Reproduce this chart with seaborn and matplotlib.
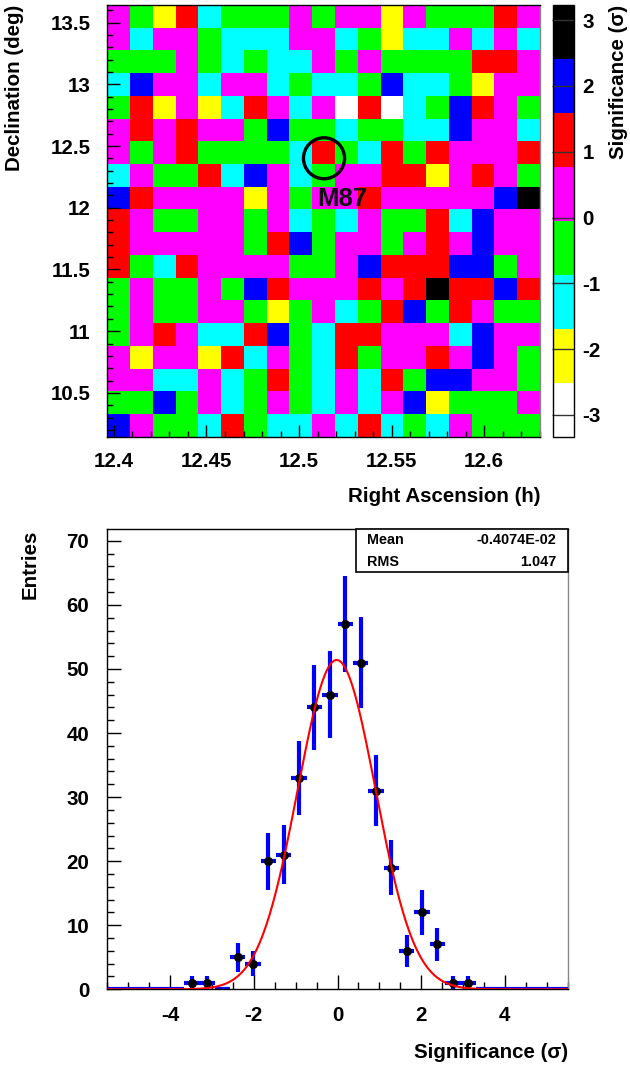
import numpy as np
import pandas as pd
import seaborn as sns
import matplotlib.pyplot as plt
from matplotlib.colors import ListedColormap
from matplotlib.patches import Ellipse, Rectangle

plt.rcParams['font.family'] = ['Liberation Sans', 'DejaVu Sans']
plt.rcParams['font.weight'] = 'bold'
plt.rcParams['axes.labelweight'] = 'bold'

#%% data
# significance map, 19x19 cells, top row = highest declination
# colour codes: W Y C G M R B K (lowest -> highest significance)
map_rows = [
    'MGYRCGGGMGMMYMGGGRM',
    'MCMMGCCCMMCGYCCMCMC',
    'GGGMGCGCCMGMGGGGRRM',
    'CBMMCMMCGCCGBCCGYMM',
    'GRYMYCRMCMWRWCGBRMG',
    'MRMRMMGBGGCGGCCBMMC',
    'MGMRGGGGCRGCRGRMMMR',
    'CMGGRCBMCGMMRRYMRMG',
    'BRMMMMYMGMMRMMMMMBK',
    'RMGGMMGMCGCMGGRCBMM',
    'RMMMMMGRBGMMGMRMBMM',
    'RGCRMMMMGGMBRRRBBGM',
    'GMGGMGBRMMMRMRKRRBR',
    'GMGGMMGYGMCGRBGRMGG',
    'GMRMCCRBGCRRMMMCBMM',
    'MYMMYRCMGCRGMMRMBMG',
    'MMCCMCGRGCMCRGBBMMG',
    'GGBGMCGMGCMCMBYGGGM',
    'BMGGCRGCCMCRCGCMGGG',
]
# estimated significance of each colour class (middle of its band)
code_sig = {'W': -2.92, 'Y': -2.10, 'C': -1.28, 'G': -0.46,
            'M': 0.36, 'R': 1.18, 'B': 2.00, 'K': 2.82}
code_colors = ['white', '#ffff00', '#00ffff', '#00ff00',
               '#ff00ff', '#ff0000', '#0000ff', 'black']
z_min, z_max = -3.33, 3.23

ra_lo, ra_hi = 12.3964, 12.6302
dec_lo, dec_hi = 10.145, 13.643
ra_ticks = [12.4, 12.45, 12.5, 12.55, 12.6]
ra_labels = ['12.4', '12.45', '12.5', '12.55', '12.6']
dec_ticks = [10.5, 11, 11.5, 12, 12.5, 13, 13.5]
dec_labels = ['10.5', '11', '11.5', '12', '12.5', '13', '13.5']
cbar_ticks = [-3, -2, -1, 0, 1, 2, 3]

m87_ra, m87_dec = 12.5135, 12.401
m87_r_ra, m87_r_dec = 0.0111, 0.166
m87_text_ra, m87_text_dec = 12.5236, 12.071

# significance histogram, 30 bins from -5.5 to 5.5
hist_lo, hist_hi = -5.5, 5.5
hist_counts = [0, 0, 0, 0, 0, 1, 1, 0, 5, 4, 20, 21, 33, 44, 46,
               57, 51, 31, 19, 6, 12, 7, 1, 1, 0, 0, 0, 0, 0, 0]
fit_const, fit_mean, fit_sigma = 51.4, -0.02, 0.93
stat_mean = '-0.4074E-02'
stat_rms = '1.047'

#%% figure
W, H = 630, 1069
fig = plt.figure(figsize=(W / 100, H / 100), dpi=100)
fs = 14.8

def fbox(x0, y0, x1, y1):
    return [x0 / W, 1 - y1 / H, (x1 - x0) / W, (y1 - y0) / H]

ax1 = fig.add_axes(fbox(107.3, 5, 540, 436.7))
cax = fig.add_axes(fbox(552.7, 5, 574.3, 436.7))
ax2 = fig.add_axes(fbox(107.3, 529.3, 567.7, 989.3))

#%% top: significance map
n = len(map_rows)
sig_map = pd.DataFrame([[code_sig[c] for c in row] for row in map_rows])
cmap = ListedColormap(code_colors)
sns.heatmap(sig_map, cmap=cmap, vmin=z_min, vmax=z_max, ax=ax1, cbar_ax=cax,
            xticklabels=False, yticklabels=False, linewidths=0)

def ra_pos(ra):
    return (np.asarray(ra) - ra_lo) / (ra_hi - ra_lo) * n

def dec_pos(dec):
    return (dec_hi - np.asarray(dec)) / (dec_hi - dec_lo) * n

ax1.set_xticks(ra_pos(ra_ticks))
ax1.set_xticklabels(ra_labels, fontsize=fs, fontweight='bold')
ax1.set_xticks(ra_pos(np.arange(12.40, 12.631, 0.01)), minor=True)
ax1.set_yticks(dec_pos(dec_ticks))
ax1.set_yticklabels(dec_labels, fontsize=fs, fontweight='bold', rotation=0)
ax1.set_yticks(dec_pos(np.arange(10.2, 13.61, 0.1)), minor=True)
ax1.tick_params(which='major', direction='in', length=9, width=1, pad=11)
ax1.tick_params(which='minor', direction='in', length=4.5, width=1)
ax1.tick_params(axis='y', which='major', pad=12)
ax1.set_xlim(0, n)
ax1.set_ylim(n, 0)
ax1.set_xlabel('')
ax1.set_ylabel('')
for name, s in ax1.spines.items():
    s.set_visible(True)
    s.set_linewidth(1)
    s.set_color('#888888' if name == 'right' else 'black')

ell = Ellipse((ra_pos(m87_ra), dec_pos(m87_dec)),
              width=2 * m87_r_ra / (ra_hi - ra_lo) * n,
              height=2 * m87_r_dec / (dec_hi - dec_lo) * n,
              fill=False, edgecolor='black', linewidth=2.4, zorder=5)
ax1.add_patch(ell)
ax1.text(ra_pos(m87_text_ra), dec_pos(m87_text_dec), 'M87', fontsize=18.5,
         fontweight='bold', ha='center', va='center', color='#111111', zorder=6)

cbar = ax1.collections[0].colorbar
cbar.set_ticks(cbar_ticks)
cbar.set_ticklabels([str(t) for t in cbar_ticks])
cax.tick_params(direction='in', length=15.5, width=1, color='#333333',
                labelsize=fs, pad=6)
for lab in cax.get_yticklabels():
    lab.set_fontweight('bold')
cbar.outline.set_edgecolor('black')
cbar.outline.set_linewidth(1)
cax.minorticks_off()

fig.text(540 / W, 1 - 496 / H, 'Right Ascension (h)', ha='right', va='center',
         fontsize=fs, fontweight='bold')
fig.text(15 / W, 1 - 5 / H, 'Declination (deg)', ha='center', va='top',
         rotation=90, fontsize=fs, fontweight='bold')
fig.text(618 / W, 1 - 5 / H, 'Significance (σ)', ha='center', va='top',
         rotation=90, fontsize=fs, fontweight='bold')

#%% bottom: histogram of significances with gaussian fit
edges = np.linspace(hist_lo, hist_hi, len(hist_counts) + 1)
centers = (edges[:-1] + edges[1:]) / 2
bw = edges[1] - edges[0]
counts = np.array(hist_counts, dtype=float)

ax2.errorbar(centers, counts, xerr=bw / 2, yerr=np.sqrt(counts), fmt='none',
             ecolor='#0000ff', elinewidth=3.0, capsize=0, zorder=2)
nz = counts > 0
sns.scatterplot(x=centers[nz], y=counts[nz], color='black', s=42,
                edgecolor='black', linewidth=0, ax=ax2, zorder=3)
xf = np.linspace(hist_lo, hist_hi, 600)
yf = fit_const * np.exp(-0.5 * ((xf - fit_mean) / fit_sigma) ** 2)
sns.lineplot(x=xf, y=yf, color='#ff0000', linewidth=1.5, ax=ax2, zorder=4)

ax2.set_xlim(hist_lo, hist_hi)
ax2.set_ylim(0, 71.8)
ax2.set_xticks([-4, -2, 0, 2, 4])
ax2.set_xticklabels(['-4', '-2', '0', '2', '4'], fontsize=fs, fontweight='bold')
ax2.set_xticks(np.arange(-5.5, 5.51, 0.5), minor=True)
ax2.set_yticks(np.arange(0, 71, 10))
ax2.set_yticklabels([str(v) for v in range(0, 71, 10)], fontsize=fs,
                    fontweight='bold')
ax2.set_yticks(np.arange(0, 71, 2), minor=True)
ax2.tick_params(which='major', direction='in', length=10, width=1, pad=12)
ax2.tick_params(which='minor', direction='in', length=5, width=1)
ax2.tick_params(axis='y', which='major', pad=13)
ax2.set_xlabel('')
ax2.set_ylabel('')
for name, s in ax2.spines.items():
    s.set_linewidth(1)
    s.set_color('#888888' if name == 'right' else 'black')

# stats box
bx0 = (356 - 107.3) / 460.4
by0 = 1 - 43 / 460
ax2.add_patch(Rectangle((bx0, by0), 1 - bx0, 1 - by0, transform=ax2.transAxes,
                        facecolor='white', edgecolor='black', linewidth=1.2,
                        zorder=10, clip_on=False))
for yy, name, val in [(0.9767, 'Mean', stat_mean), (0.928, 'RMS', stat_rms)]:
    ax2.text(0.5634, yy, name, transform=ax2.transAxes, fontsize=10.4,
             fontweight='bold', ha='left', va='center', zorder=11)
    ax2.text(0.976, yy, val, transform=ax2.transAxes, fontsize=10.4,
             fontweight='bold', ha='right', va='center', zorder=11)

fig.text(567.7 / W, 1 - 1053 / H, 'Significance (σ)', ha='right', va='center',
         fontsize=fs, fontweight='bold')
fig.text(30 / W, 1 - 530 / H, 'Entries', ha='center', va='top', rotation=90,
         fontsize=fs, fontweight='bold')

plt.savefig('out.png', dpi=100, facecolor='white')
